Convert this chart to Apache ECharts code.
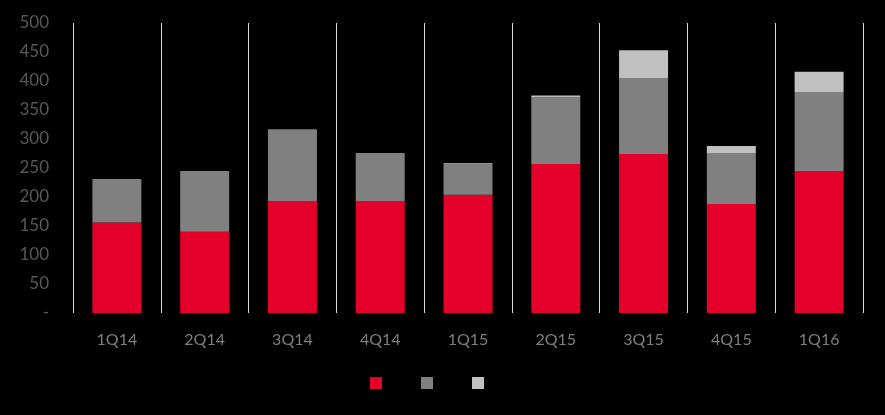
<!DOCTYPE html>
<html>
<head>
<meta charset="utf-8">
<script src="https://cdn.jsdelivr.net/npm/echarts@6/dist/echarts.min.js"></script>
<style>html,body{margin:0;padding:0;background:#000;}#c{width:885px;height:415px;}</style>
</head>
<body>
<div id="c"></div>
<script>
var categories = ['1Q14','2Q14','3Q14','4Q14','1Q15','2Q15','3Q15','4Q15','1Q16'];
var seriesRed = [156, 140, 193, 193, 204, 257, 274, 188, 245];
var seriesGray = [75, 105, 124, 83, 53, 115, 131, 87, 136];
var seriesLight = [0, 0, 0, 0, 1, 3, 48, 13, 35];
var yTicks = [0, 50, 100, 150, 200, 250, 300, 350, 400, 450, 500];

var chart = echarts.init(document.getElementById('c'));
chart.setOption({
  backgroundColor: '#000',
  animation: false,
  grid: {left: 73, right: 22, top: 23, bottom: 102},
  legend: {
    show: true,
    top: 372,
    left: 365,
    padding: 5,
    itemWidth: 12,
    itemHeight: 12,
    itemGap: 39,
    icon: 'rect',
    formatter: function(){ return ''; },
    data: ['A','B','C']
  },
  xAxis: {
    type: 'category',
    data: categories,
    axisLine: {show: false},
    axisTick: {show: false},
    splitLine: {show: true, lineStyle: {color: '#d9d9d9', width: 1}},
    axisLabel: {color: '#7f7f7f', fontSize: 16, fontFamily: 'Lato', margin: 19}
  },
  yAxis: {
    type: 'value',
    min: 0, max: 500, interval: 50,
    axisLine: {show: false},
    axisTick: {show: false},
    splitLine: {show: false},
    axisLabel: {
      color: '#595959', fontSize: 17, fontFamily: 'Lato', margin: 24,
      formatter: function(v){ return v === 0 ? '-' : String(v); }
    }
  },
  series: [
    {name: 'A', type: 'bar', stack: 's', data: seriesRed, barWidth: 49, itemStyle: {color: '#e4002b'}},
    {name: 'B', type: 'bar', stack: 's', data: seriesGray, barWidth: 49, itemStyle: {color: '#808080'}},
    {name: 'C', type: 'bar', stack: 's', data: seriesLight, barWidth: 49, itemStyle: {color: '#c0c0c0'}}
  ]
});
</script>
</body>
</html>
